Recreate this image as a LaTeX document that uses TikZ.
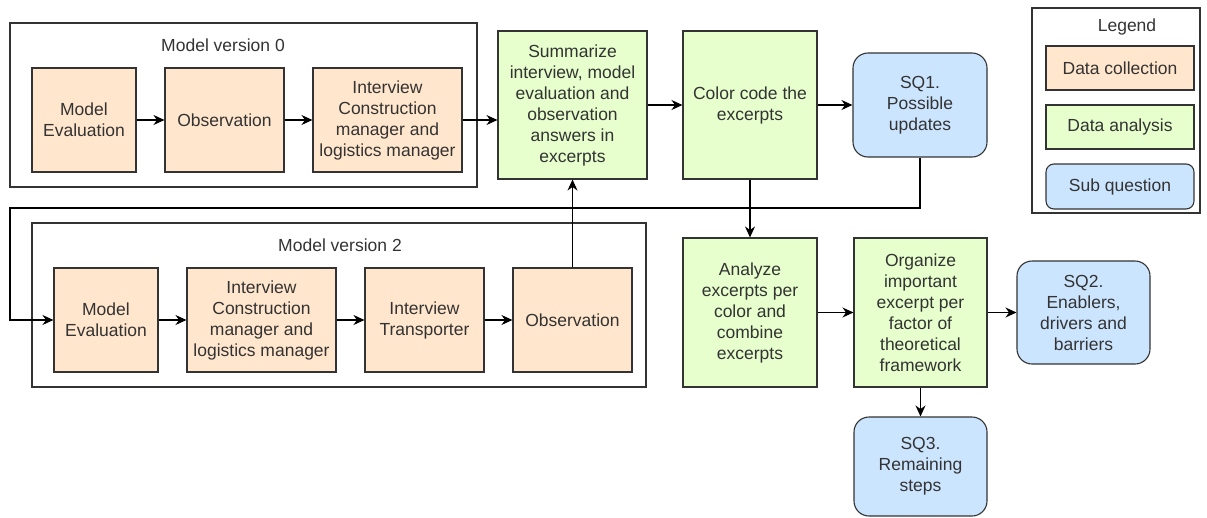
\documentclass[tikz,border=0pt]{standalone}
\usepackage{fontspec}
\setmainfont{Liberation Sans}
\usetikzlibrary{arrows.meta}
\definecolor{collect}{HTML}{FFE6CC}
\definecolor{analyse}{HTML}{E6FFCC}
\definecolor{subq}{HTML}{CCE5FF}
\definecolor{edge}{HTML}{333333}
\tikzset{
  box/.style={draw=edge, line width=1.1pt, align=center, inner sep=2pt, text=edge},
  dc/.style={box, fill=collect},
  da/.style={box, fill=analyse},
  sq/.style={box, fill=subq, rounded corners=15pt},
  frame/.style={draw=edge, line width=1.1pt},
  lab/.style={text=edge},
  flow/.style={-{Stealth[length=11pt,width=10pt]}, line width=1.1pt, draw=black}
}
\begin{document}
\begin{tikzpicture}[x=1pt, y=-1pt, font=\fontsize{17.5}{21}\selectfont]
\useasboundingbox (0,0) rectangle (1207,517);

\draw[frame] (10,23) rectangle (477,187);
\node[lab] (v0) at (223,45) {Model version 0};
\draw[frame] (32,223) rectangle (646,387);
\node[lab] (v2) at (340,245) {Model version 2};
\draw[frame] (1032,8) rectangle (1200,213);
\node[lab] (leg) at (1127,27) {Legend};

\node[dc, minimum width=104pt, minimum height=104pt] (me0) at (84,120) {Model\\Evaluation};
\node[dc, minimum width=119pt, minimum height=104pt] (obs0) at (224.5,120) {Observation};
\node[dc, minimum width=149pt, minimum height=104pt] (int0) at (387.5,120) {Interview\\Construction\\manager and\\logistics manager};

\node[da, minimum width=149pt, minimum height=148pt] (summ) at (572.5,105) {Summarize\\interview, model\\evaluation and\\observation\\answers in\\excerpts};
\node[da, minimum width=134pt, minimum height=148pt] (col) at (750,105) {Color code the\\excerpts};
\node[sq, minimum width=134pt, minimum height=104pt] (sq1) at (920,105) {SQ1.\\Possible\\updates};

\node[dc, minimum width=104pt, minimum height=104pt] (me2) at (106,320) {Model\\Evaluation};
\node[dc, minimum width=149pt, minimum height=104pt] (int2) at (261.5,320) {Interview\\Construction\\manager and\\logistics manager};
\node[dc, minimum width=119pt, minimum height=104pt] (tra) at (424.5,320) {Interview\\Transporter};
\node[dc, minimum width=119pt, minimum height=104pt] (obs2) at (572.5,320) {Observation};

\node[da, minimum width=134pt, minimum height=149pt] (ana) at (750,312.5) {Analyze\\excerpts per\\color and\\combine\\excerpts};
\node[da, minimum width=133pt, minimum height=149pt] (org) at (920.5,312.5) {Organize\\important\\excerpt per\\factor of\\theoretical\\framework};
\node[sq, minimum width=133pt, minimum height=103pt] (sq2) at (1083.5,312.5) {SQ2.\\Enablers,\\drivers and\\barriers};
\node[sq, minimum width=133pt, minimum height=99pt] (sq3) at (920.5,466.5) {SQ3.\\Remaining\\steps};

\node[dc, minimum width=148pt, minimum height=44pt] (ldc) at (1120,68) {Data collection};
\node[da, minimum width=148pt, minimum height=44pt] (lda) at (1120,127) {Data analysis};
\node[sq, rounded corners=8pt, minimum width=148pt, minimum height=45pt] (lsq) at (1120,186.5) {Sub question};

\coordinate (loop) at (10,208);

\draw[flow] (me0) -- (obs0);
\draw[flow] (obs0) -- (int0);
\draw[flow] (int0.east) -- (int0.east -| summ.west);
\draw[flow] (summ) -- (col);
\draw[flow] (col) -- (sq1);
\draw[flow] (col) -- (ana);
\draw[flow] (sq1.south) |- (loop) |- (me2.west);
\draw[flow] (me2) -- (int2);
\draw[flow] (int2) -- (tra);
\draw[flow] (tra) -- (obs2);
\draw[flow] (obs2) -- (summ);
\draw[flow] (ana) -- (org);
\draw[flow] (org) -- (sq2);
\draw[flow] (org) -- (sq3);
\end{tikzpicture}
\end{document}
